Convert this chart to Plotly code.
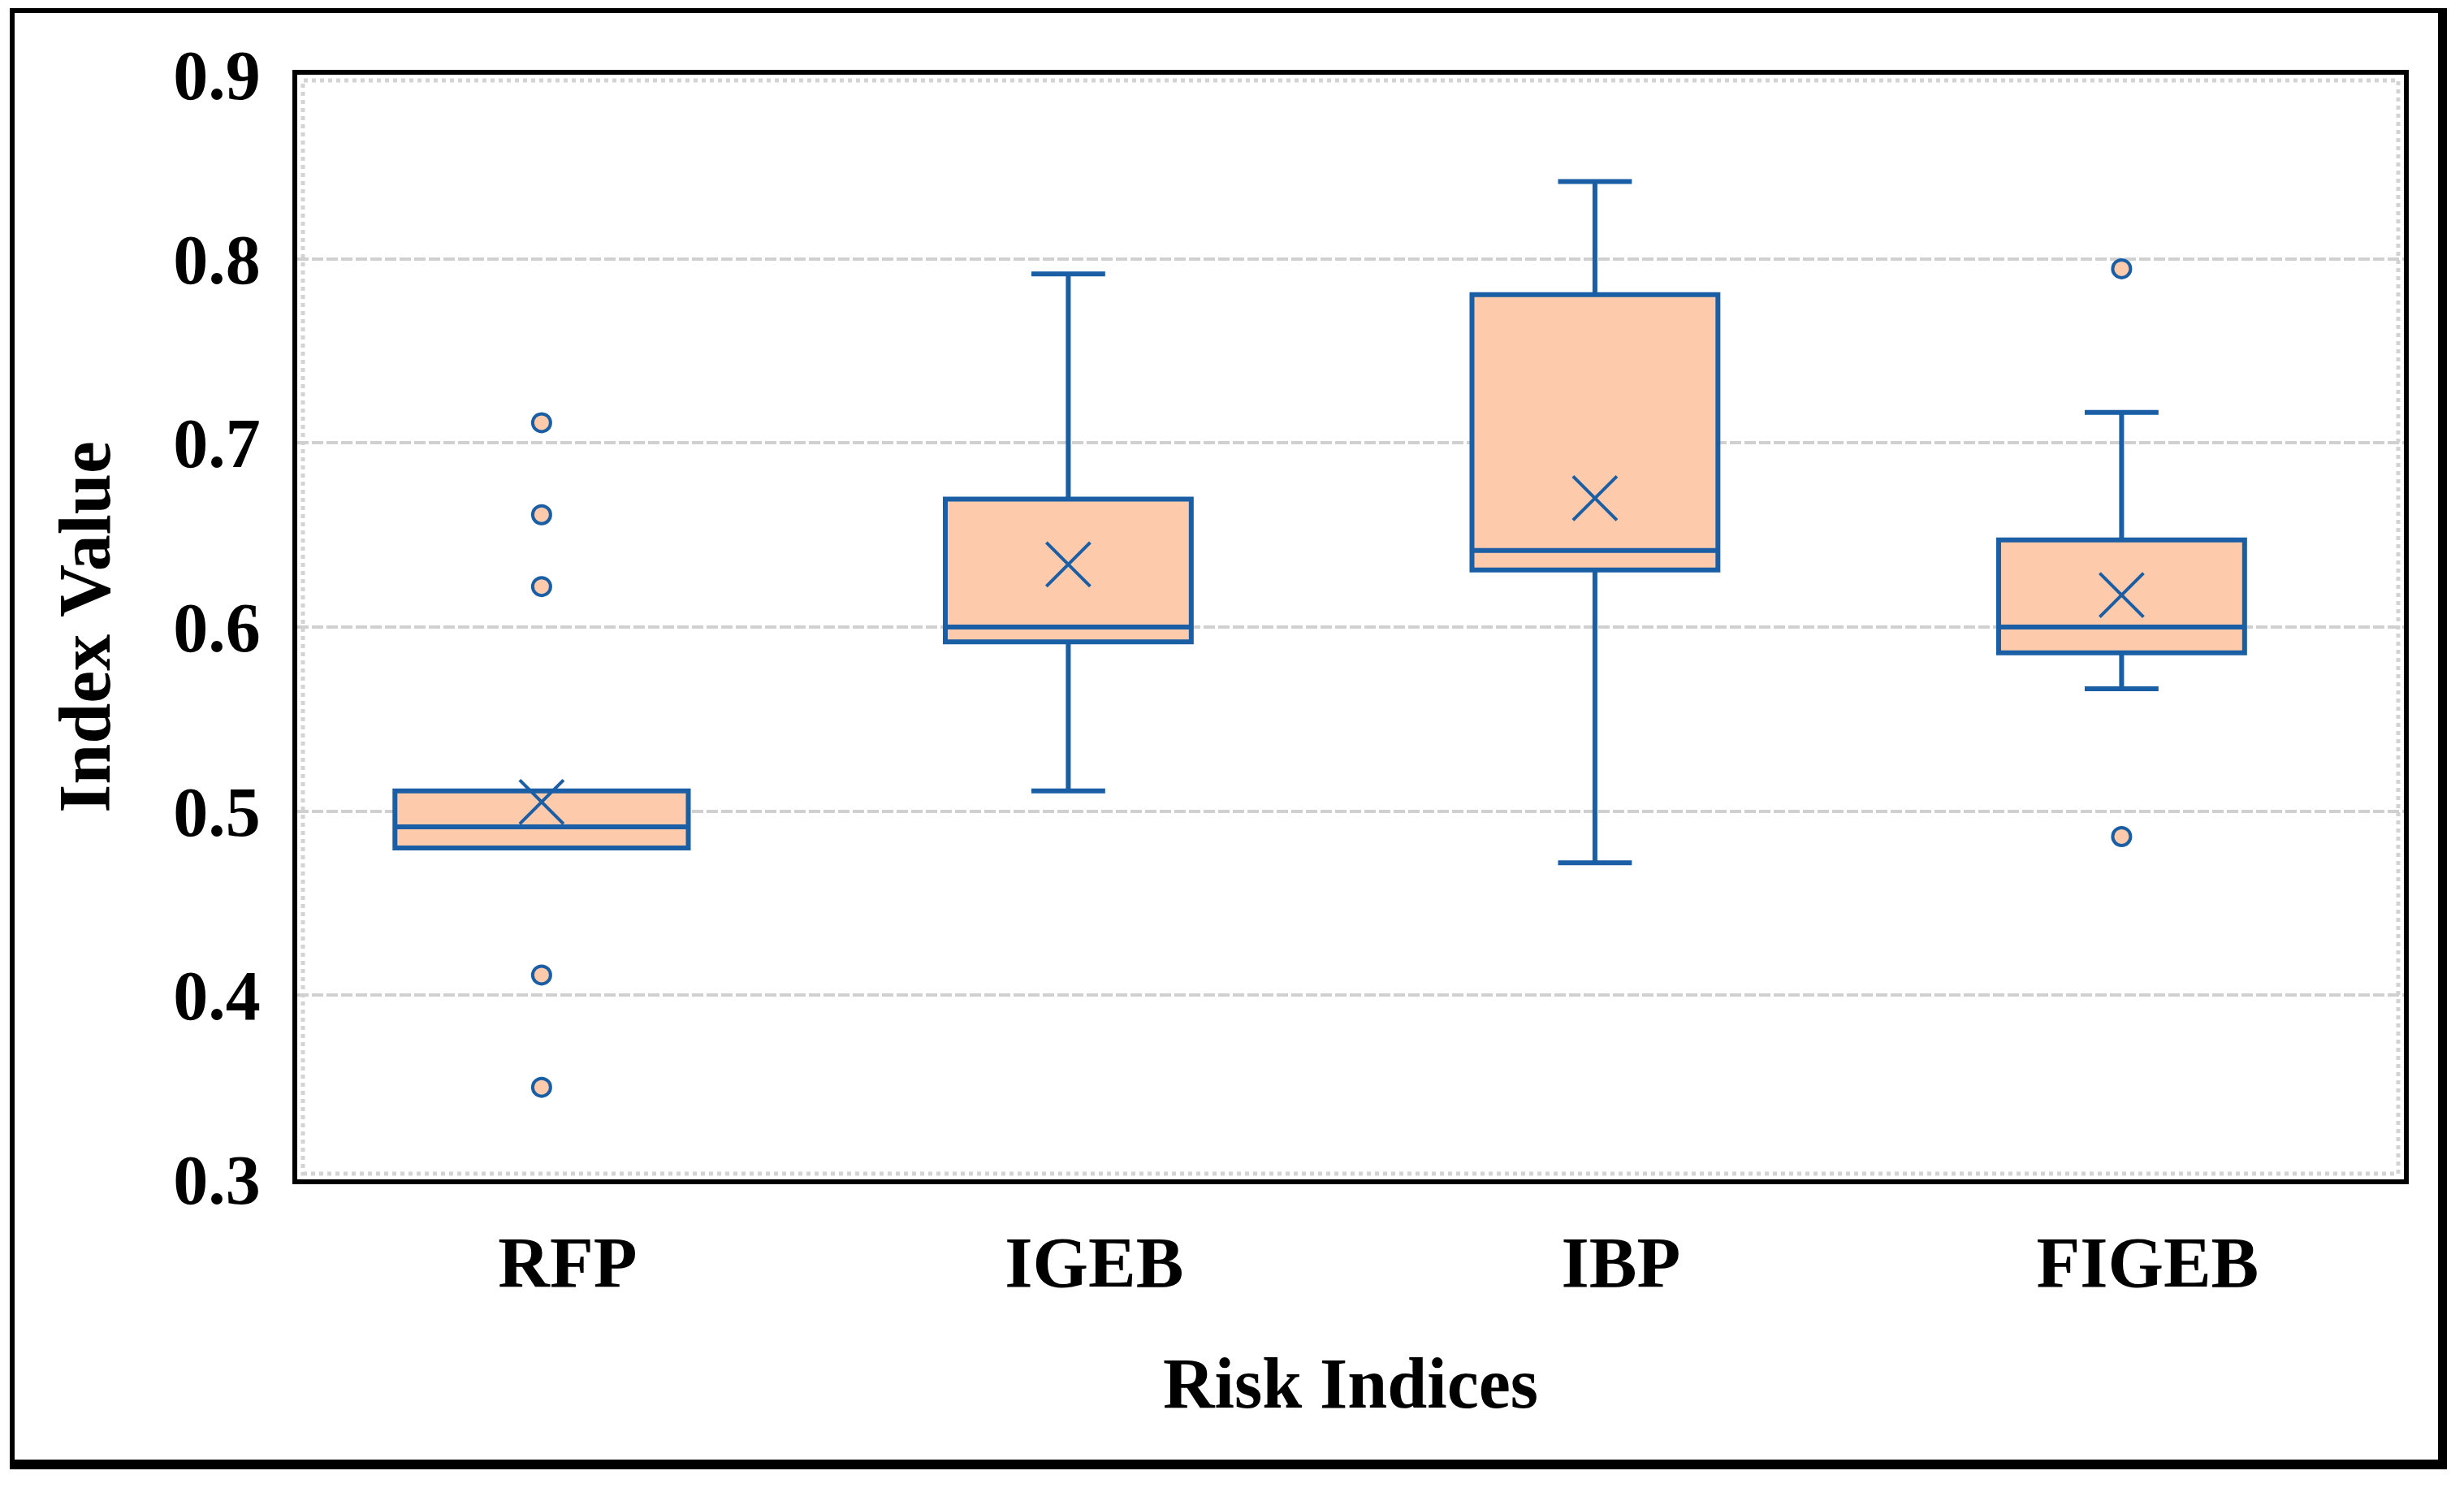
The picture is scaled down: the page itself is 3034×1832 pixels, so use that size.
import plotly.graph_objects as go

# ---- data ----
categories = ["RFP", "IGEB", "IBP", "FIGEB"]
q1 = [0.480, 0.592, 0.631, 0.586]
median = [0.4915, 0.600, 0.6416, 0.600]
q3 = [0.511, 0.6695, 0.7806, 0.6473]
lower_whisker = [0.480, 0.511, 0.472, 0.5665]
upper_whisker = [0.511, 0.7918, 0.842, 0.7166]
means = [0.505, 0.634, 0.670, 0.6174]
outliers = {
    "RFP": [0.711, 0.661, 0.622, 0.411, 0.350],
    "IGEB": [],
    "IBP": [],
    "FIGEB": [0.7946, 0.4862],
}
box_widths = [0.557, 0.467, 0.467, 0.467]
y_ticks = [0.3, 0.4, 0.5, 0.6, 0.7, 0.8, 0.9]

# ---- style ----
OFF = 8                      # default page body margin
W, H = 3034 - 2 * OFF, 1832 - 2 * OFF
L, T = 366 - OFF, 92 - OFF
R = W - (2960 - OFF)
B = H - (1452 - OFF)
BLUE = "#1A5EA5"
PEACH = "#FDCBAB"
FONT = "Liberation Serif, Times New Roman, serif"

fig = go.Figure()

for i, c in enumerate(categories):
    fig.add_trace(go.Box(
        x=[c], q1=[q1[i]], median=[median[i]], q3=[q3[i]],
        lowerfence=[lower_whisker[i]], upperfence=[upper_whisker[i]],
        width=box_widths[i], whiskerwidth=0.3,
        fillcolor=PEACH, line=dict(color=BLUE, width=6),
        boxpoints=False, showlegend=False, hoverinfo="skip",
    ))

for c in categories:
    if outliers[c]:
        fig.add_trace(go.Scatter(
            x=[c] * len(outliers[c]), y=outliers[c], mode="markers",
            marker=dict(symbol="circle", size=22, color=PEACH,
                        line=dict(color=BLUE, width=4)),
            showlegend=False, hoverinfo="skip",
        ))

fig.add_trace(go.Scatter(
    x=categories, y=means, mode="markers",
    marker=dict(symbol="x-thin", size=54, color=BLUE,
                line=dict(color=BLUE, width=4)),
    showlegend=False, hoverinfo="skip",
))

pw, ph = W - L - R, H - T - B


def px(xs):
    return (xs - OFF - L) / pw


def py(ys):
    return (H - B - (ys - OFF)) / ph


shapes = [
    # light grey dotted inner border
    dict(type="rect", xref="paper", yref="paper",
         x0=px(366 + 7), x1=px(2960 - 7), y0=py(1452 - 7), y1=py(92 + 7),
         line=dict(color="#D3D3D3", width=5, dash="dot"), layer="below"),
    # outer picture frame (thin left/top, thick right/bottom)
    dict(type="rect", xref="paper", yref="paper", x0=px(12), x1=px(18),
         y0=py(1809), y1=py(10), fillcolor="black", line=dict(width=0)),
    dict(type="rect", xref="paper", yref="paper", x0=px(12), x1=px(3013),
         y0=py(16), y1=py(10), fillcolor="black", line=dict(width=0)),
    dict(type="rect", xref="paper", yref="paper", x0=px(3002), x1=px(3013),
         y0=py(1809), y1=py(10), fillcolor="black", line=dict(width=0)),
    dict(type="rect", xref="paper", yref="paper", x0=px(12), x1=px(3013),
         y0=py(1809), y1=py(1797), fillcolor="black", line=dict(width=0)),
]

fig.update_layout(
    width=W, height=H,
    margin=dict(l=L, r=R, t=T, b=B),
    paper_bgcolor="white", plot_bgcolor="white",
    boxmode="overlay",
    font=dict(family=FONT, color="black", size=88, weight=700),
    shapes=shapes,
    xaxis=dict(
        type="category", categoryorder="array", categoryarray=categories,
        range=[-0.464, 3.536],
        showgrid=False, zeroline=False,
        showline=True, linecolor="black", linewidth=6, mirror=True,
        ticks="", ticklabelstandoff=20, ticklabelshift=32,
        tickfont=dict(family=FONT, size=88, weight=700),
        title=dict(text="Risk Indices", standoff=72,
                   font=dict(family=FONT, size=88, weight=700)),
    ),
    yaxis=dict(
        range=[0.3, 0.9], tickvals=y_ticks, tickformat=".1f",
        showgrid=True, gridcolor="#D0D0D0", gridwidth=4, griddash="14px,4px",
        zeroline=False,
        showline=True, linecolor="black", linewidth=6, mirror=True,
        ticks="", ticklabelstandoff=22,
        tickfont=dict(family=FONT, size=86, weight=700),
        title=dict(text="Index Value", standoff=50,
                   font=dict(family=FONT, size=90, weight=700)),
    ),
)

fig.write_html("out.html")
